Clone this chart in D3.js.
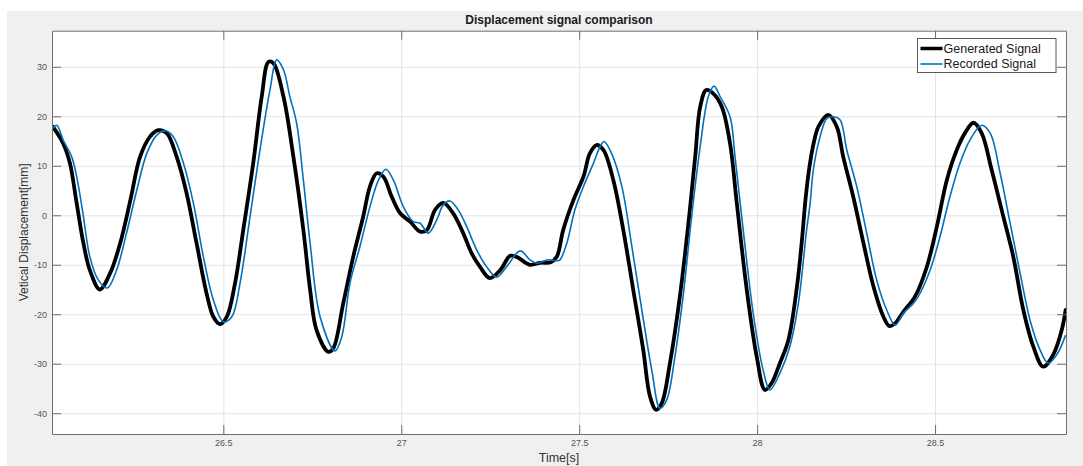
<!DOCTYPE html>
<html>
<head>
<meta charset="utf-8">
<script src="https://cdn.jsdelivr.net/npm/d3@7"></script>
<style>
  html, body { margin: 0; padding: 0; background: #ffffff; }
  svg { display: block; font-family: "Liberation Sans", Arial, sans-serif; }
</style>
</head>
<body>
<svg id="chart" width="1083" height="466"></svg>
<script>
// Generated (reference) displacement signal: time [s], displacement [mm]
const genTime = [26.021,26.050,26.069,26.088,26.107,26.125,26.153,26.182,26.210,26.239,26.266,26.294,26.317,26.341,26.369,26.397,26.425,26.453,26.472,26.491,26.510,26.533,26.556,26.584,26.608,26.627,26.641,26.669,26.697,26.725,26.744,26.762,26.795,26.809,26.837,26.865,26.893,26.912,26.931,26.950,26.973,26.997,27.025,27.053,27.072,27.095,27.118,27.146,27.174,27.198,27.221,27.249,27.278,27.306,27.324,27.362,27.390,27.420,27.437,27.455,27.484,27.512,27.530,27.549,27.568,27.596,27.624,27.652,27.680,27.699,27.716,27.732,27.755,27.783,27.807,27.826,27.840,27.857,27.877,27.901,27.924,27.943,27.971,27.999,28.022,28.041,28.064,28.088,28.112,28.126,28.137,28.148,28.159,28.173,28.200,28.224,28.242,28.270,28.299,28.327,28.355,28.372,28.388,28.411,28.444,28.477,28.505,28.533,28.561,28.584,28.608,28.631,28.659,28.692,28.720,28.748,28.776,28.804,28.832,28.856,28.867];
const genDisp = [17.9,14.5,10.5,2.4,-5.7,-11.1,-15.0,-11.7,-5.7,3.1,11.8,15.9,17.2,16.6,11.8,4.4,-5.7,-15.8,-20.5,-22.0,-20.5,-13.7,-3.0,10.5,24.0,31.0,30.7,24.0,11.8,-3.0,-15.1,-23.2,-27.6,-26.9,-17.8,-8.4,-0.3,5.8,8.5,7.8,3.8,0.4,-1.3,-3.3,-3.0,1.1,2.5,0.4,-3.6,-7.7,-10.4,-12.7,-11.1,-8.2,-8.4,-10.0,-9.6,-9.5,-8.4,-3.0,3.1,7.8,12.5,14.2,13.2,7.1,-3.0,-15.1,-27.2,-36.6,-39.3,-38.0,-29.9,-16.4,-1.6,11.8,21.9,25.3,24.6,21.9,14.5,2.4,-15.1,-28.6,-35.3,-33.9,-29.9,-25.2,-14.4,-5.0,3.9,10.2,14.6,18.0,20.3,17.9,11.8,3.8,-5.7,-14.4,-20.5,-22.4,-21.8,-19.5,-16.4,-10.4,-2.3,7.1,13.2,16.6,18.7,16.6,9.2,-0.3,-8.4,-19.1,-26.5,-30.6,-28.2,-23.2,-19.1];

// Recorded (measured) displacement signal: time [s], displacement [mm]
const recTime = [26.021,26.032,26.050,26.074,26.088,26.107,26.125,26.149,26.174,26.200,26.228,26.257,26.285,26.313,26.336,26.359,26.388,26.416,26.444,26.472,26.500,26.524,26.547,26.575,26.603,26.631,26.650,26.669,26.687,26.706,26.725,26.744,26.772,26.814,26.833,26.856,26.884,26.912,26.936,26.957,26.978,27.006,27.034,27.053,27.076,27.100,27.118,27.137,27.160,27.184,27.212,27.240,27.268,27.296,27.334,27.362,27.381,27.413,27.437,27.446,27.465,27.488,27.512,27.540,27.559,27.570,27.591,27.620,27.648,27.676,27.704,27.727,27.746,27.769,27.793,27.816,27.840,27.863,27.879,27.896,27.924,27.938,27.961,27.989,28.017,28.036,28.064,28.092,28.116,28.139,28.149,28.158,28.177,28.196,28.214,28.233,28.252,28.280,28.308,28.336,28.364,28.388,28.411,28.439,28.453,28.486,28.514,28.542,28.570,28.598,28.631,28.655,28.683,28.711,28.739,28.767,28.795,28.818,28.842,28.867];
const recDisp = [17.6,18.2,15.2,11.8,7.8,-0.3,-8.4,-13.1,-14.7,-11.1,-3.6,5.1,12.5,16.2,17.1,15.9,10.5,2.4,-8.4,-17.1,-21.5,-20.5,-13.7,-0.3,13.2,25.3,31.4,29.4,24.0,18.6,7.1,-5.7,-20.5,-27.4,-24.5,-13.7,-6.3,1.7,7.1,9.3,7.1,1.7,-1.3,-1.6,-3.6,-0.9,2.1,2.9,1.1,-2.3,-7.0,-10.4,-12.5,-10.4,-7.2,-9.0,-9.7,-9.0,-9.2,-9.0,-5.7,1.1,5.8,10.5,13.9,14.9,12.5,5.8,-6.3,-19.1,-31.3,-39.0,-37.3,-28.6,-15.8,-0.3,13.9,24.0,26.1,24.0,19.9,11.8,-3.0,-19.8,-31.3,-35.3,-31.9,-26.5,-17.8,-3.0,2.4,9.2,15.9,19.6,19.9,19.3,13.2,5.8,-3.6,-13.1,-19.1,-22.2,-19.8,-17.8,-16.4,-11.1,-4.3,3.8,10.5,15.2,18.2,16.6,8.5,-1.6,-11.7,-21.2,-27.2,-29.9,-28.2,-24.2];

// Axis ticks and labels
const xTicks = [26.5, 27, 27.5, 28, 28.5];
const xTickLabels = ["26.5", "27", "27.5", "28", "28.5"];
const yTicks = [-40, -30, -20, -10, 0, 10, 20, 30];
const yTickLabels = ["-40", "-30", "-20", "-10", "0", "10", "20", "30"];

const seriesNames = ["Generated Signal", "Recorded Signal"];

const svg = d3.select("#chart");
const W = 1083, H = 466;

// figure panel
svg.append("rect").attr("x", 0).attr("y", 0).attr("width", W).attr("height", H).attr("fill", "#ffffff");
svg.append("rect").attr("x", 7).attr("y", 11).attr("width", W - 7).attr("height", H - 11).attr("fill", "#f0f0f0");

const plot = { left: 52, right: 1066, top: 30.7, bottom: 434 };
const pw = plot.right - plot.left, ph = plot.bottom - plot.top;

const x = d3.scaleLinear().domain([26.0186, 28.868]).range([plot.left, plot.right]);
const y = d3.scaleLinear().domain([-44.2, 37.3]).range([plot.bottom, plot.top]);

// axes background
svg.append("rect").attr("x", plot.left).attr("y", plot.top).attr("width", pw).attr("height", ph).attr("fill", "#ffffff");

// grid
const grid = svg.append("g").attr("class", "grid");
grid.append("g").attr("transform", `translate(0,${plot.bottom})`)
  .call(d3.axisBottom(x).tickValues(xTicks).tickSize(-ph).tickFormat(""))
  .call(g => g.select(".domain").remove())
  .call(g => g.selectAll("line").attr("stroke", "#e3e3e3").attr("stroke-width", 1));
grid.append("g").attr("transform", `translate(${plot.left},0)`)
  .call(d3.axisLeft(y).tickValues(yTicks).tickSize(-pw).tickFormat(""))
  .call(g => g.select(".domain").remove())
  .call(g => g.selectAll("line").attr("stroke", "#e3e3e3").attr("stroke-width", 1));

// lines
svg.append("clipPath").attr("id", "plotclip")
  .append("rect").attr("x", plot.left).attr("y", plot.top).attr("width", pw).attr("height", ph);

const line = d3.line()
  .x(d => x(d[0]))
  .y(d => y(d[1]))
  .curve(d3.curveCatmullRom.alpha(0.5));

const genData = genTime.map((t, i) => [t, genDisp[i]]);
const recData = recTime.map((t, i) => [t, recDisp[i]]);

const lines = svg.append("g").attr("clip-path", "url(#plotclip)");
lines.append("path").datum(genData).attr("d", line)
  .attr("fill", "none").attr("stroke", "#000000").attr("stroke-width", 3.8)
  .attr("stroke-linejoin", "round").attr("stroke-linecap", "round");
lines.append("path").datum(recData).attr("d", line)
  .attr("fill", "none").attr("stroke", "#0072BD").attr("stroke-width", 1.6)
  .attr("stroke-linejoin", "round");

// axes with inward ticks on all four sides
const tickLen = 9;
const axisColor = "#6e6e6e";
const tickText = "#555555";

function styleAxis(g) {
  g.select(".domain").attr("stroke", axisColor).attr("stroke-width", 1);
  g.selectAll(".tick line").attr("stroke", axisColor);
  g.selectAll(".tick text").attr("fill", tickText).attr("font-size", 9)
    .attr("font-family", "'Liberation Sans', Arial, sans-serif");
}

svg.append("g").attr("transform", `translate(0,${plot.bottom})`)
  .call(d3.axisBottom(x).tickValues(xTicks).tickSizeInner(-tickLen).tickSizeOuter(0).tickPadding(6)
    .tickFormat((d, i) => xTickLabels[i]))
  .call(styleAxis);
svg.append("g").attr("transform", `translate(0,${plot.top})`)
  .call(d3.axisTop(x).tickValues(xTicks).tickSizeInner(-tickLen).tickSizeOuter(0).tickFormat(""))
  .call(styleAxis);
svg.append("g").attr("transform", `translate(${plot.left},0)`)
  .call(d3.axisLeft(y).tickValues(yTicks).tickSizeInner(-tickLen).tickSizeOuter(0).tickPadding(5)
    .tickFormat((d, i) => yTickLabels[i]))
  .call(styleAxis);
svg.append("g").attr("transform", `translate(${plot.right},0)`)
  .call(d3.axisRight(y).tickValues(yTicks).tickSizeInner(-tickLen).tickSizeOuter(0).tickFormat(""))
  .call(styleAxis);

// title and axis labels
svg.append("text").attr("x", (plot.left + plot.right) / 2).attr("y", 24)
  .attr("text-anchor", "middle").attr("font-weight", "bold").attr("font-size", 12)
  .attr("fill", "#1a1a1a").text("Displacement signal comparison");

svg.append("text").attr("x", (plot.left + plot.right) / 2).attr("y", 462)
  .attr("text-anchor", "middle").attr("font-size", 12.5).attr("fill", "#333333").text("Time[s]");

svg.append("text")
  .attr("transform", `translate(28,${(plot.top + plot.bottom) / 2}) rotate(-90)`)
  .attr("text-anchor", "middle").attr("font-size", 12).attr("fill", "#333333")
  .text("Vetical Displacement[mm]");

// legend
const lg = svg.append("g").attr("transform", "translate(917.5,38.5)");
lg.append("rect").attr("width", 138.5).attr("height", 34).attr("fill", "#ffffff")
  .attr("stroke", "#5a5a5a").attr("stroke-width", 1);
const legendStyles = [
  { color: "#000000", width: 3.5 },
  { color: "#0072BD", width: 1.6 }
];
seriesNames.forEach((name, i) => {
  const yy = 10 + i * 15.5;
  lg.append("line").attr("x1", 3).attr("x2", 25).attr("y1", yy).attr("y2", yy)
    .attr("stroke", legendStyles[i].color).attr("stroke-width", legendStyles[i].width);
  lg.append("text").attr("x", 26).attr("y", yy + 4.3).attr("font-size", 12.5)
    .attr("fill", "#1a1a1a").text(name);
});
</script>
</body>
</html>
